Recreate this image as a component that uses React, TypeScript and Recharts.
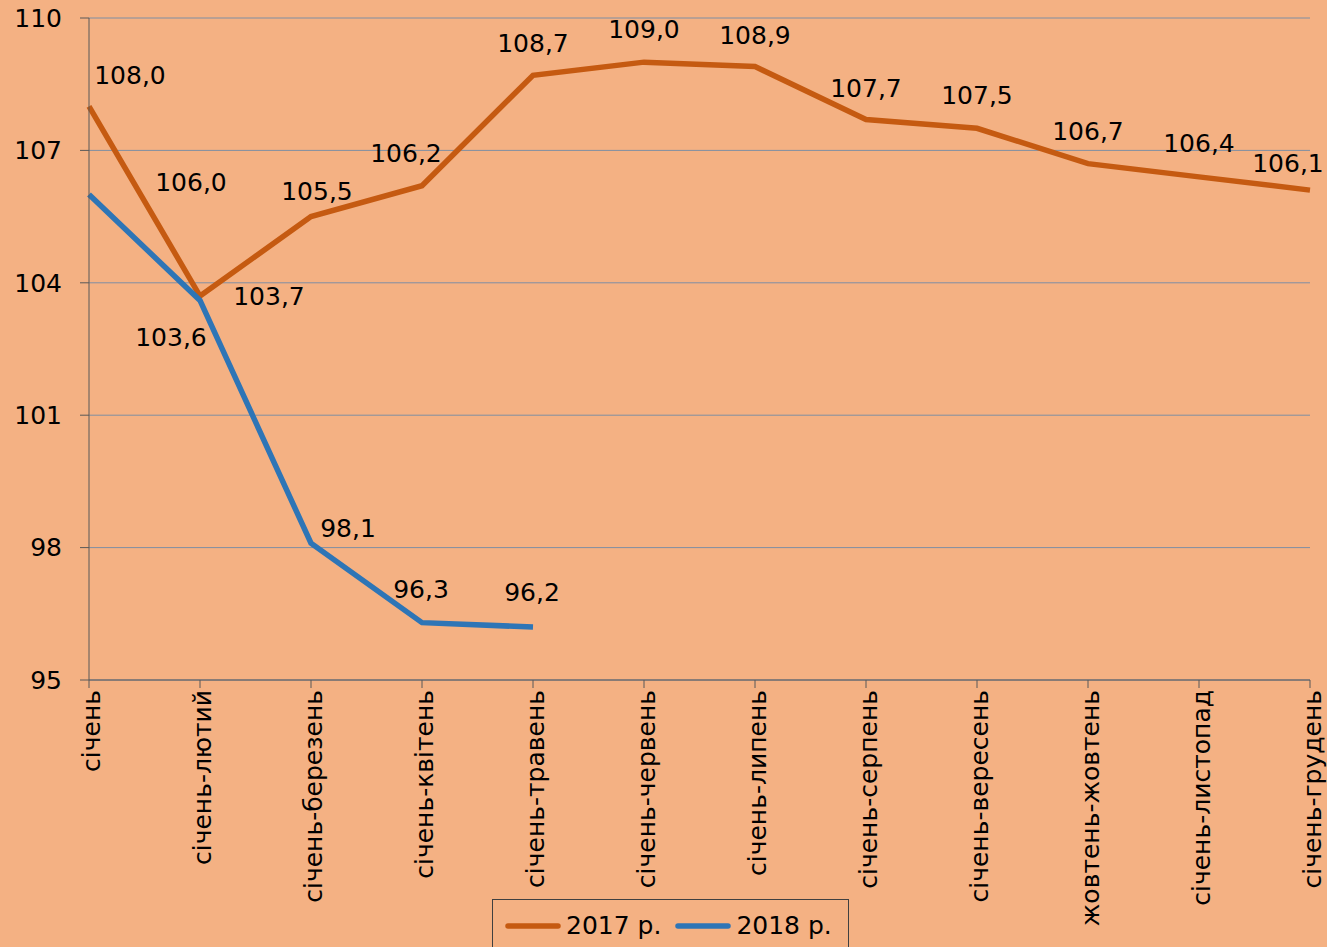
import React from 'react';
import { LineChart, Line, XAxis, YAxis, CartesianGrid, Legend } from 'recharts';

const categories = [
  'січень',
  'січень-лютий',
  'січень-березень',
  'січень-квітень',
  'січень-травень',
  'січень-червень',
  'січень-липень',
  'січень-серпень',
  'січень-вересень',
  'жовтень-жовтень',
  'січень-листопад',
  'січень-грудень',
];
const values2017 = [108.0, 103.7, 105.5, 106.2, 108.7, 109.0, 108.9, 107.7, 107.5, 106.7, 106.4, 106.1];
const values2018: (number | null)[] = [106.0, 103.6, 98.1, 96.3, 96.2, null, null, null, null, null, null, null];
const yTicks = [95, 98, 101, 104, 107, 110];
const seriesNames = ['2017 р.', '2018 р.'];

const data = categories.map((c, i) => ({ month: c, s2017: values2017[i], s2018: values2018[i] }));

// label placement offsets (style config, relative to point)
const offsets2017 = [[41, -31], [69, 0], [6, -26], [-16, -33], [0, -32], [0, -33], [0, -32], [0, -32], [0, -33], [0, -33], [0, -34], [-22, -27]];
const offsets2018 = [[102, -13], [-29, 37], [37, -15], [-1, -34], [-1, -35]];

const FONT = '"DejaVu Sans", Verdana, sans-serif';
const ORANGE = '#C55A11';
const BLUE = '#2E75B6';

const makeLabel = (offs: number[][]) => (props: any) => {
  const { value, index } = props;
  if (value === null || value === undefined) return null;
  const x = props.x ?? props.viewBox?.x;
  const y = props.y ?? props.viewBox?.y;
  const o = offs[index] || [0, -32];
  return (
    <text
      key={`l-${index}`}
      x={x + o[0]}
      y={y + o[1]}
      dy="0.36em"
      textAnchor="middle"
      fontSize={25}
      fontFamily={FONT}
      fill="#000"
    >
      {Number(value).toFixed(1).replace('.', ',')}
    </text>
  );
};

const XTick = (props: any) => {
  const { x, y, payload } = props;
  return (
    <g transform={`translate(${x},${y})`}>
      <text
        transform="rotate(-90)"
        x={0}
        y={0}
        dy={11}
        textAnchor="end"
        fontSize={25}
        fontFamily={FONT}
        fill="#000"
      >
        {payload.value}
      </text>
    </g>
  );
};

const LegendContent = () => (
  <div
    style={{
      boxSizing: 'border-box',
      width: 357,
      height: 48,
      borderTop: '1px solid #404040',
      borderLeft: '1px solid #404040',
      borderRight: '1px solid #404040',
      display: 'flex',
      alignItems: 'center',
      paddingLeft: 12,
      paddingTop: 4,
      fontFamily: FONT,
      fontSize: 25,
      color: '#000',
    }}
  >
    <svg width={56} height={8} style={{ display: 'block' }}>
      <line x1={3} y1={4} x2={53} y2={4} stroke={ORANGE} strokeWidth={5.5} strokeLinecap="round" />
    </svg>
    <span style={{ marginLeft: 5, marginRight: 14, whiteSpace: 'nowrap' }}>{seriesNames[0]}</span>
    <svg width={56} height={8} style={{ display: 'block' }}>
      <line x1={3} y1={4} x2={53} y2={4} stroke={BLUE} strokeWidth={5.5} strokeLinecap="round" />
    </svg>
    <span style={{ marginLeft: 5, whiteSpace: 'nowrap' }}>{seriesNames[1]}</span>
  </div>
);

export default function App() {
  return (
    <div style={{ position: 'absolute', left: 0, top: 0, width: 1327, height: 947, background: '#F4B183', overflow: 'hidden' }}>
      <LineChart
        width={1327}
        height={947}
        data={data}
        margin={{ top: 18, right: 17, left: 0, bottom: 0 }}
      >
        <CartesianGrid vertical={false} stroke="#7f8ea3" strokeWidth={1} />
        <XAxis
          dataKey="month"
          interval={0}
          height={267}
          tick={<XTick />}
          tickSize={8}
          tickMargin={2}
          axisLine={{ stroke: '#595959' }}
          tickLine={{ stroke: '#595959' }}
        />
        <YAxis
          width={89}
          domain={[95, 110]}
          ticks={yTicks}
          interval={0}
          tickSize={9}
          tickMargin={18}
          axisLine={{ stroke: '#595959' }}
          tickLine={{ stroke: '#595959' }}
          tick={{ fill: '#000', fontSize: 25, fontFamily: FONT }}
        />
        <Legend
          layout="horizontal"
          verticalAlign="middle"
          align="center"
          content={<LegendContent />}
          wrapperStyle={{ left: 492, top: 899, width: 357, height: 48, bottom: 'auto', right: 'auto' }}
        />
        <Line
          type="linear"
          dataKey="s2017"
          name={seriesNames[0]}
          stroke={ORANGE}
          strokeWidth={5.5}
          dot={false}
          activeDot={false}
          isAnimationActive={false}
          label={makeLabel(offsets2017)}
        />
        <Line
          type="linear"
          dataKey="s2018"
          name={seriesNames[1]}
          stroke={BLUE}
          strokeWidth={5.5}
          dot={false}
          activeDot={false}
          isAnimationActive={false}
          connectNulls={false}
          label={makeLabel(offsets2018)}
        />
      </LineChart>
    </div>
  );
}
